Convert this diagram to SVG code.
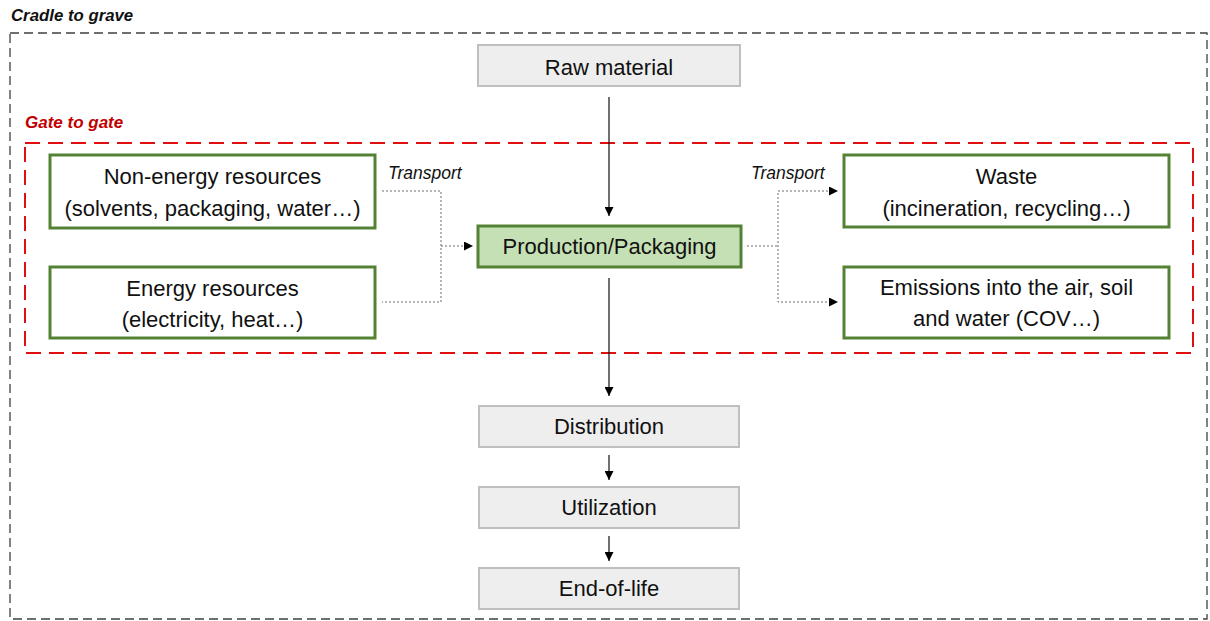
<svg xmlns="http://www.w3.org/2000/svg" width="1210" height="621" viewBox="0 0 1210 621">
<defs>
<style>
.t{font-family:"Liberation Sans",Arial,sans-serif;font-size:22px;fill:#111;text-anchor:middle}
.gray{fill:#eeeeee;stroke:#bfbfbf;stroke-width:2}
.green{fill:#ffffff;stroke:#548235;stroke-width:3}
.prod{fill:#c5e0b4;stroke:#548235;stroke-width:3}
.solid{stroke:#111;stroke-width:1.2;fill:none}
.dot{stroke:#6a6a6a;stroke-width:1;stroke-dasharray:2,2;fill:none}
.tr{font-family:"Liberation Sans",Arial,sans-serif;font-size:17.5px;font-style:italic;fill:#111}
</style>
<marker id="ah" viewBox="0 0 10 10" refX="10" refY="5" markerWidth="9" markerHeight="9" markerUnits="userSpaceOnUse" orient="auto">
<path d="M0,0 L10,5 L0,10 z" fill="#000"/>
</marker>
</defs>
<rect width="1210" height="621" fill="#ffffff"/>
<g id="cradle">
<text x="11" y="21" style="font-family:'Liberation Sans',Arial,sans-serif;font-size:16.8px;font-weight:bold;font-style:italic;fill:#111">Cradle to grave</text>
<rect x="10" y="33" width="1197" height="586" fill="none" stroke="#404040" stroke-width="1.3" stroke-dasharray="9,5"/>
</g>
<g id="gate">
<text x="25" y="128" style="font-family:'Liberation Sans',Arial,sans-serif;font-size:17px;font-weight:bold;font-style:italic;fill:#c00000">Gate to gate</text>
<rect x="25" y="143" width="1168" height="210" fill="none" stroke="#e01010" stroke-width="2" stroke-dasharray="15,8"/>
</g>
<g id="connectors">
<line class="solid" x1="609" y1="97" x2="609" y2="216" marker-end="url(#ah)"/>
<line class="solid" x1="609" y1="278" x2="609" y2="396" marker-end="url(#ah)"/>
<line class="solid" x1="609" y1="455" x2="609" y2="480" marker-end="url(#ah)"/>
<line class="solid" x1="609" y1="536" x2="609" y2="561" marker-end="url(#ah)"/>
<polyline class="dot" points="382,191 441,191 441,302 382,302"/>
<line class="dot" x1="441" y1="246" x2="473" y2="246" marker-end="url(#ah)"/>
<polyline class="dot" points="747,246 778,246"/>
<polyline class="dot" points="836,191 778,191 778,302 836,302"/>
<line x1="830" y1="191" x2="838" y2="191" stroke="none" marker-end="url(#ah)"/>
<line x1="830" y1="302" x2="838" y2="302" stroke="none" marker-end="url(#ah)"/>
<text class="tr" x="388" y="179">Transport</text>
<text class="tr" x="751" y="179">Transport</text>
</g>
<g id="raw">
<rect class="gray" x="478" y="45" width="262" height="41"/>
<text class="t" x="609" y="75">Raw material</text>
</g>
<g id="nonenergy">
<rect class="green" x="50" y="155" width="325" height="73"/>
<text class="t" x="212.5" y="184">Non-energy resources</text>
<text class="t" x="212.5" y="216">(solvents, packaging, water…)</text>
</g>
<g id="energy">
<rect class="green" x="50" y="267" width="325" height="71"/>
<text class="t" x="212.5" y="296">Energy resources</text>
<text class="t" x="212.5" y="327">(electricity, heat…)</text>
</g>
<g id="production">
<rect class="prod" x="478" y="226" width="263" height="41"/>
<text class="t" x="609.5" y="254">Production/Packaging</text>
</g>
<g id="waste">
<rect class="green" x="844" y="155" width="325" height="72"/>
<text class="t" x="1006.5" y="184">Waste</text>
<text class="t" x="1006.5" y="216">(incineration, recycling…)</text>
</g>
<g id="emissions">
<rect class="green" x="844" y="267" width="325" height="71"/>
<text class="t" x="1006.5" y="295">Emissions into the air, soil</text>
<text class="t" x="1006.5" y="326">and water (COV…)</text>
</g>
<g id="distribution">
<rect class="gray" x="479" y="406" width="260" height="41"/>
<text class="t" x="609" y="434">Distribution</text>
</g>
<g id="utilization">
<rect class="gray" x="479" y="487" width="260" height="41"/>
<text class="t" x="609" y="515">Utilization</text>
</g>
<g id="endoflife">
<rect class="gray" x="479" y="568" width="260" height="41"/>
<text class="t" x="609" y="596">End-of-life</text>
</g>
</svg>
